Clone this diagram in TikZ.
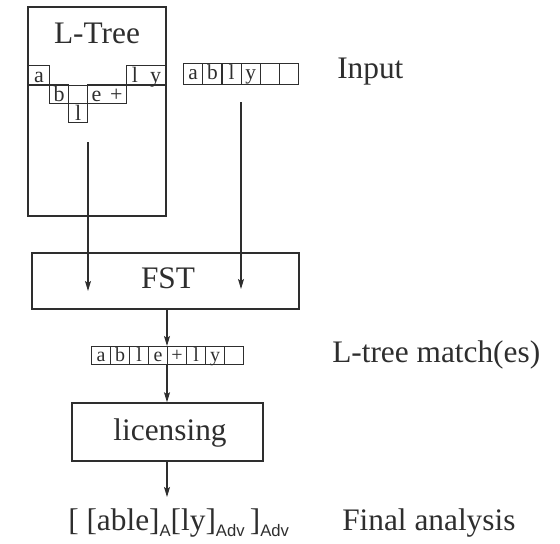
\documentclass[tikz,border=0pt]{standalone}
\usepackage{fontspec}
\setmainfont{Liberation Serif}
\setsansfont{Liberation Sans}
\usetikzlibrary{arrows.meta}
\definecolor{ink}{HTML}{2E2E2E}
\newcommand{\subsf}[1]{\raisebox{-0.22em}{\fontsize{12.5}{12.5}\selectfont\sffamily #1}}
\begin{document}
\begin{tikzpicture}[x=0.75pt,y=-0.75pt,
  every node/.style={text=ink, inner sep=0pt},
  box/.style={draw=ink, line width=1.1pt, inner sep=0pt},
  cellbase/.style={draw=ink, line width=0.9pt, anchor=north west, inner sep=0pt},
  tcell/.style={cellbase, font=\fontsize{16.5}{16.5}\selectfont, minimum height=19*0.75pt, text height=11pt, text depth=0pt},
  icell/.style={cellbase, font=\fontsize{16}{16}\selectfont, minimum width=19.17*0.75pt, minimum height=21*0.75pt, text height=10pt, text depth=1.75pt},
  mcell/.style={cellbase, font=\fontsize{15}{15}\selectfont, minimum width=19*0.75pt, minimum height=18*0.75pt, text height=9.5pt, text depth=0pt},
  lbl/.style={font=\fontsize{23.5}{24}\selectfont, anchor=base west},
  arr/.style={draw=ink, line width=0.9pt, -{Stealth[length=7.5pt,width=4.5pt,inset=1.5pt]}}
]
\useasboundingbox (0,0) rectangle (560,543);

% L-Tree box
\node[box, minimum width=138*0.75pt, minimum height=209*0.75pt] (ltree) at (97,111.5) {};
\node[lbl, anchor=base] (ltitle) at (97,43) {L-Tree};
\node[tcell, minimum width=21*0.75pt] (ta) at (28,65) {a};
\node[tcell, minimum width=19*0.75pt] (tb) at (49,84) {b};
\node[tcell, minimum width=19*0.75pt] (tl) at (68,103) {l};
\node[tcell, minimum width=39*0.75pt] (te) at (87,84) {e\hspace{0.4em}+};
\node[tcell, minimum width=40*0.75pt] (ty) at (126,65) {l\hspace{0.55em}y};
\draw[draw=ink, line width=0.9pt] (ltree.west |- ta.south) -- (ltree.east |- ta.south);

% Input strip
\foreach \t [count=\i from 0] in {a,b,l,y,{},{}}
  \node[icell] (in\i) at (183+19.17*\i,63) {\t};
\node[lbl] (input) at (337,78) {Input};

% FST
\node[box, minimum width=267*0.75pt, minimum height=56*0.75pt] (fst) at (165.5,281) {};
\node[lbl, anchor=base] (fsttxt) at (168,288) {FST};

% Match strip
\foreach \t [count=\i from 0] in {a,b,l,e,+,l,y,{}}
  \node[mcell] (m\i) at (91+19*\i,346) {\t};
\node[lbl] (match) at (332,362) {L-tree match(es)};

% licensing
\node[box, minimum width=191*0.75pt, minimum height=58*0.75pt] (lic) at (167.5,432) {};
\node[lbl, anchor=base] (lictxt) at (170,440) {licensing};

% final
\node[lbl] (formula) at (68,530) {[ [able]\subsf{A}[ly]\subsf{Adv}\,]\subsf{Adv}};
\node[lbl] (final) at (342,530) {Final analysis};

% arrows
\coordinate (a1s) at (88,142);
\coordinate (a1e) at (88,291);
\coordinate (a2s) at (241,102);
\coordinate (a2e) at (241,289);
\coordinate (a5e) at (167,497);
\draw[arr] (a1s) -- (a1e);
\draw[arr] (a2s) -- (a2e);
\draw[arr] (fst.south -| m4.north west) -- (m4.north west);
\draw[arr] (m4.south west) -- (lic.north -| m4.south west);
\draw[arr] (lic.south -| a5e) -- (a5e);
\end{tikzpicture}
\end{document}
